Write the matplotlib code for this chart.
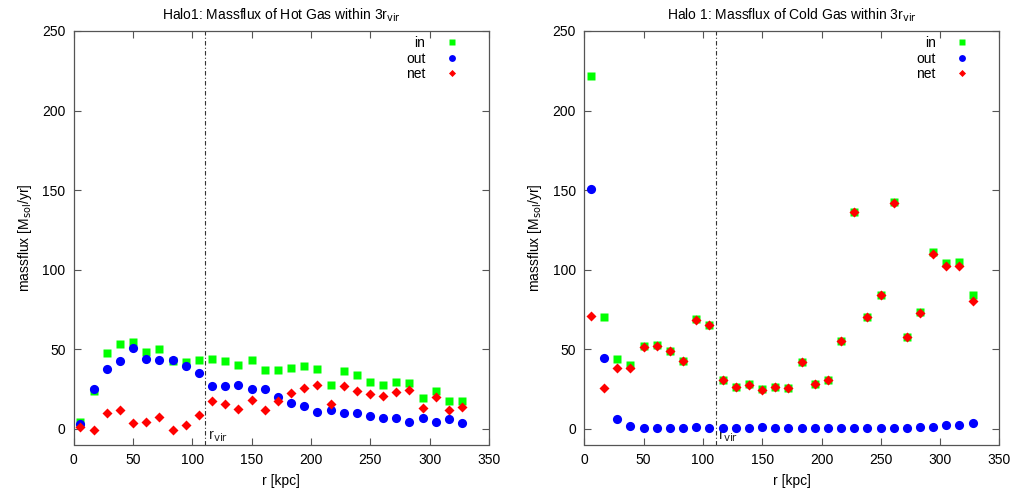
import matplotlib
matplotlib.use("Agg")
import matplotlib.pyplot as plt
import numpy as np

plt.rcParams['font.family'] = ['Liberation Sans', 'DejaVu Sans']

# radial bin centres [kpc]
r_kpc = [5.55, 16.65, 27.75, 38.85, 49.95, 61.05, 72.15, 83.25, 94.35, 105.45,
         116.55, 127.65, 138.75, 149.85, 160.95, 172.05, 183.15, 194.25, 205.35, 216.45,
         227.55, 238.65, 249.75, 260.85, 271.95, 283.05, 294.15, 305.25, 316.35, 327.45]
r_vir = 111.0

# Hot gas
hot_in = [3.9, 23.7, 47.4, 53.4, 54.7, 48.0, 50.3, 42.5, 41.9, 43.4,
          43.6, 42.5, 40.3, 43.0, 37.1, 37.1, 38.2, 39.4, 37.5, 27.5,
          36.5, 33.4, 29.0, 27.3, 29.4, 28.4, 19.1, 23.7, 17.3, 17.3]
hot_out = [2.8, 24.6, 37.5, 42.3, 50.9, 43.8, 43.2, 43.4, 39.6, 34.8,
           26.5, 26.9, 27.3, 24.8, 25.0, 20.0, 16.0, 13.9, 10.2, 11.8,
           9.9, 9.9, 7.7, 6.6, 6.4, 4.1, 6.4, 4.1, 6.0, 3.6]
hot_net = [1.1, -0.9, 9.5, 11.4, 3.6, 4.3, 7.2, -1.1, 2.0, 8.5,
           17.3, 15.6, 12.4, 18.1, 12.0, 17.4, 22.3, 25.4, 27.3, 15.6,
           26.5, 23.5, 21.6, 20.6, 23.1, 24.4, 12.9, 19.6, 11.6, 13.3]

# Cold gas
cold_in = [221.8, 69.9, 44.0, 39.8, 51.9, 52.5, 49.0, 42.8, 68.7, 65.3,
           30.8, 26.2, 27.9, 25.0, 26.2, 25.6, 42.1, 28.3, 30.6, 54.9,
           136.2, 70.3, 84.1, 142.2, 57.8, 73.2, 111.1, 104.2, 104.8, 84.1]
cold_out = [150.8, 44.4, 6.1, 1.4, 0.5, 0.5, 0.5, 0.5, 0.7, 0.5,
            0.5, 0.5, 0.5, 0.7, 0.5, 0.1, 0.1, 0.1, 0.1, 0.1,
            0.1, 0.1, 0.1, 0.3, 0.5, 0.9, 1.1, 2.0, 2.4, 3.6]
cold_net = [71.0, 25.4, 37.9, 38.4, 51.3, 52.2, 48.6, 42.8, 68.0, 64.9,
            30.6, 26.2, 27.3, 24.4, 26.2, 25.6, 42.1, 28.3, 30.6, 54.9,
            136.2, 70.3, 84.1, 142.0, 57.8, 72.6, 110.0, 102.1, 102.1, 80.1]

titles = ["Halo1: Massflux of Hot Gas within 3r$_{\\rm vir}$",
          "Halo 1: Massflux of Cold Gas within 3r$_{\\rm vir}$"]

fig = plt.figure(figsize=(10.15, 4.94), dpi=100)
W, H = 1015.0, 494.0
ax1 = fig.add_axes([73.8 / W, (H - 444.5) / H, 415.1 / W, 413.5 / H])
ax2 = fig.add_axes([584.3 / W, (H - 444.5) / H, 415.1 / W, 413.5 / H])

for ax, vin, vout, vnet, title in [(ax1, hot_in, hot_out, hot_net, titles[0]),
                                   (ax2, cold_in, cold_out, cold_net, titles[1])]:
    ax.plot(r_kpc, vin, 's', color='#00ff00', ms=6.3, mec='none', label='in', zorder=3)
    ax.plot(r_kpc, vout, 'o', color='#0000ff', ms=6.6, mec='none', label='out', zorder=4)
    ax.plot(r_kpc, vnet, 'D', color='#ff0000', ms=4.8, mec='none', label='net', zorder=5)
    ax.axvline(r_vir, color='#333333', lw=0.8, ls=(0, (4, 2, 1, 2)), zorder=2)
    ax.text(r_vir + 2, -4.5, "r$_{\\rm vir}$", fontsize=10.5, va='center', ha='left', color='#222222')
    ax.set_xlim(0, 350)
    ax.set_ylim(-10, 250)
    ax.set_xticks(np.arange(0, 351, 50))
    ax.set_yticks(np.arange(0, 251, 50))
    ax.tick_params(direction='in', top=True, right=True, length=5, width=0.8,
                   labelsize=10, color='#555555', pad=6)
    for s in ax.spines.values():
        s.set_color('#555555')
        s.set_linewidth(0.9)
    ax.set_title(title, fontsize=10, pad=8)
    ax.set_xlabel("r [kpc]", fontsize=10, labelpad=5)
    ax.set_ylabel("massflux [M$_{\\rm sol}$/yr]", fontsize=10, labelpad=6)
    leg = ax.legend(loc='upper right', bbox_to_anchor=(0.954, 1.015), frameon=False,
                    markerfirst=False, fontsize=10, handlelength=1.0, markerscale=0.75,
                    handletextpad=1.4, labelspacing=0.12, borderpad=0.3)
    for t in leg.get_texts():
        t.set_ha('right')

fig.savefig("out.png", dpi=100)
